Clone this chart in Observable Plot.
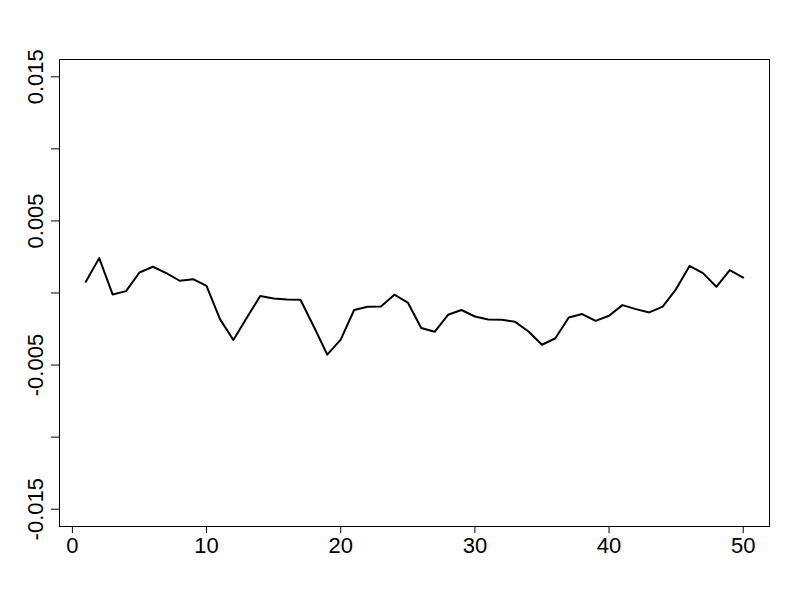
<!DOCTYPE html>
<html>
<head>
<meta charset="utf-8">
<script src="https://cdn.jsdelivr.net/npm/d3@7"></script>
<script src="https://cdn.jsdelivr.net/npm/@observablehq/plot@0.6"></script>
<style>
  html, body { margin: 0; padding: 0; background: #fff; }
  svg { display: block; }
</style>
</head>
<body>
<div id="chart"></div>
<script>
const index = d3.range(1, 51);
const values = [
  0.00078, 0.00242, -0.00010, 0.00013, 0.00142, 0.00182, 0.00138, 0.00085, 0.00096, 0.00050,
  -0.00181, -0.00326, -0.00172, -0.00021, -0.00038, -0.00045, -0.00047, -0.00234, -0.00428, -0.00324,
  -0.00118, -0.00096, -0.00094, -0.00012, -0.00066, -0.00243, -0.00269, -0.00151, -0.00118, -0.00163,
  -0.00184, -0.00186, -0.00200, -0.00267, -0.00359, -0.00314, -0.00170, -0.00146, -0.00193, -0.00158,
  -0.00084, -0.00112, -0.00135, -0.00094, 0.00027, 0.00188, 0.00138, 0.00043, 0.00159, 0.00107
];
const xTicks = [0, 10, 20, 30, 40, 50];
const yTicks = [-0.015, -0.01, -0.005, 0, 0.005, 0.01, 0.015];
const yLabels = [-0.015, -0.005, 0.005, 0.015];

const data = index.map((x, i) => ({x, y: values[i]}));
const font = "Liberation Sans, Arial, sans-serif";

const chart = Plot.plot({
  width: 800,
  height: 600,
  marginLeft: 59,
  marginRight: 31,
  marginTop: 59,
  marginBottom: 74,
  style: {fontFamily: font, background: "#fff"},
  x: {domain: [-0.96, 51.96]},
  y: {domain: [-0.0162, 0.0162]},
  marks: [
    Plot.frame({stroke: "black", strokeWidth: 1}),
    Plot.axisX({ticks: xTicks, tickSize: 7, tickPadding: 4, fontSize: 22, stroke: "black", fill: "black", tickFormat: d => String(d), label: null}),
    Plot.axisY({ticks: yTicks, tickSize: 8, stroke: "black", tickFormat: () => "", label: null}),
    Plot.text(yLabels, {
      y: d => d,
      text: d => String(d),
      frameAnchor: "left",
      rotate: -90,
      textAnchor: "middle",
      lineAnchor: "bottom",
      dx: -16.5,
      fontSize: 22,
      fill: "black"
    }),
    Plot.line(data, {x: "x", y: "y", stroke: "black", strokeWidth: 2})
  ]
});
document.getElementById("chart").appendChild(chart);
</script>
</body>
</html>
